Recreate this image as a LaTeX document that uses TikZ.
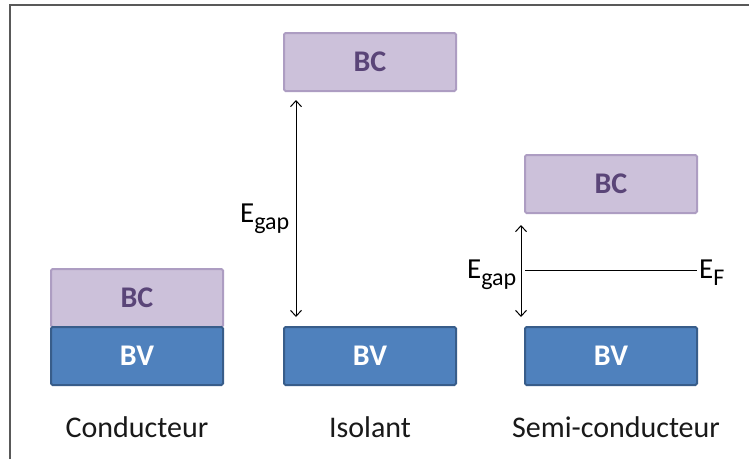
\documentclass[tikz,border=0pt]{standalone}
\usepackage{fontspec}
\setmainfont{Carlito}
\usepackage{xcolor}
\usepackage{tikz}
\usetikzlibrary{positioning, arrows.meta}
\definecolor{bcFill}{HTML}{CCC1DA}
\definecolor{bcLine}{HTML}{AD9DC2}
\definecolor{bcText}{HTML}{5A4578}
\definecolor{bvFill}{HTML}{4F81BD}
\definecolor{bvLine}{HTML}{385D8A}
\definecolor{frameColor}{HTML}{595959}

\newcommand{\Esub}[1]{E\raisebox{-7pt}{\fontsize{24}{24}\selectfont #1}}

\begin{document}
\begin{tikzpicture}[x=1pt, y=-1pt,
    bandBC/.style={draw=bcLine, line width=2pt, fill=bcFill, rounded corners=1.5pt,
        minimum width=172pt, minimum height=58pt, inner sep=0pt, outer sep=0pt,
        text=bcText, font=\fontsize{30}{30}\selectfont\bfseries},
    bandBV/.style={bandBC, draw=bvLine, fill=bvFill, text=white},
    caption/.style={font=\fontsize{30}{30}\selectfont, text=black!90},
    energy/.style={font=\fontsize{29}{30}\selectfont, inner sep=0pt, anchor=base west},
    gapArrow/.style={<->, >={Straight Barb[length=6pt, width=11pt]}, line width=1pt}]
    \useasboundingbox (0,0) rectangle (749,459);
    \fill[white] (0,0) rectangle (749,459);
    \draw[frameColor, line width=2pt] (10,459) -- (10,5) -- (749,5);

    % conducteur
    \node[bandBC] (cBC) at (137,298) {BC};
    \node[bandBV, below=0pt of cBC] (cBV) {BV};
    \node[caption] (cName) at (137,427) {Conducteur};

    % isolant
    \node[bandBC] (iBC) at (370,62) {BC};
    \node[bandBV] (iBV) at (370,356) {BV};
    \node[caption] (iName) at (370,427) {Isolant};
    \draw[gapArrow] ([xshift=12pt, yshift=-9pt]iBC.south west) -- ([xshift=12pt, yshift=10pt]iBV.north west);
    \node[energy] (iGap) at (240,222) {\Esub{gap}};

    % semi-conducteur
    \node[bandBC] (sBC) at (611,184) {BC};
    \node[bandBV] (sBV) at (611,356) {BV};
    \node[caption] (sName) at (616,427) {Semi-conducteur};
    \draw[gapArrow] ([xshift=-4pt, yshift=-12pt]sBC.south west) -- ([xshift=-4pt, yshift=10pt]sBV.north west);
    \node[energy] (sGap) at (467,278) {\Esub{gap}};
    \node[energy] (sFermi) at (699,278) {\Esub{F}};
    \coordinate (fStart) at (525,270);
    \draw[line width=1pt] (fStart) -- ([xshift=-2pt]fStart -| sFermi.west);
\end{tikzpicture}
\end{document}
